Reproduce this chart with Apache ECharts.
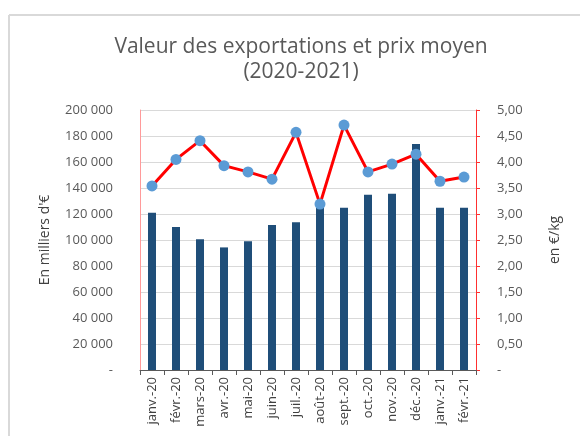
<!DOCTYPE html>
<html>
<head>
<meta charset="utf-8">
<script src="https://cdn.jsdelivr.net/npm/echarts@6/dist/echarts.min.js"></script>
<style>
  html, body { margin: 0; padding: 0; background: #fff; }
  #mychart { width: 580px; height: 436px; }
</style>
</head>
<body>
<div id="mychart"></div>
<script>
var domchart = document.getElementById("mychart");

// mois
var mois = ['janv.-20', 'févr.-20', 'mars-20', 'avr.-20', 'mai-20', 'juin-20', 'juil.-20',
            'août-20', 'sept.-20', 'oct.-20', 'nov.-20', 'déc.-20', 'janv.-21', 'févr.-21'];
// valeur des exportations (milliers d'€)
var valeurs = [121000, 110000, 100500, 94300, 99000, 111500, 113600,
               125500, 124800, 134800, 135500, 173800, 124800, 124800];
// prix moyen (€/kg)
var prix = [3.54, 4.05, 4.41, 3.93, 3.81, 3.67, 4.57,
            3.19, 4.71, 3.81, 3.96, 4.15, 3.63, 3.71];

var police = 'Open Sans';

function fmtMilliers(v) {
    if (v === 0) return '-';
    return String(v).replace(/\B(?=(\d{3})+(?!\d))/g, ' ');
}
function fmtPrix(v) {
    if (v === 0) return '-';
    return v.toFixed(2).replace('.', ',');
}

var option = {
    animation: false,
    textStyle: { fontFamily: police },
    title: {
        text: 'Valeur des exportations et prix moyen\n(2020-2021)',
        left: 296,
        top: 30,
        textAlign: 'center',
        textStyle: {
            fontFamily: police,
            fontSize: 21,
            fontWeight: 'normal',
            color: '#595959',
            lineHeight: 25
        }
    },
    graphic: [
        // cadre
        { type: 'line', shape: { x1: 9, y1: 15, x2: 580, y2: 15 }, style: { stroke: '#d9d9d9', lineWidth: 2 } },
        { type: 'line', shape: { x1: 9, y1: 15, x2: 9, y2: 436 }, style: { stroke: '#d9d9d9', lineWidth: 2 } }
    ],
    grid: { left: 140, right: 104, top: 110, bottom: 66 },
    xAxis: {
        type: 'category',
        data: mois,
        axisLine: { lineStyle: { color: '#595959' } },
        axisTick: { show: true, length: 5, lineStyle: { color: '#595959' } },
        axisLabel: { rotate: 90, color: '#404040', fontSize: 13, margin: 7 }
    },
    yAxis: [{
        type: 'value',
        min: 0, max: 200000, interval: 20000,
        name: "En milliers d'€",
        nameLocation: 'middle',
        nameRotate: 90,
        nameGap: 88,
        nameTextStyle: { color: '#404040', fontSize: 14 },
        axisLine: { show: true, lineStyle: { color: '#ff9a9a' } },
        axisTick: { show: false },
        splitLine: { lineStyle: { color: '#d9d9d9' } },
        axisLabel: { color: '#595959', fontSize: 13, margin: 27, formatter: fmtMilliers }
    }, {
        type: 'value',
        min: 0, max: 5, interval: 0.5,
        name: 'en €/kg',
        nameLocation: 'middle',
        nameRotate: 90,
        nameGap: 72,
        nameTextStyle: { color: '#404040', fontSize: 14 },
        axisLine: { show: true, lineStyle: { color: '#ff3030' } },
        axisTick: { show: true, length: 4, lineStyle: { color: '#ff3030' } },
        splitLine: { show: false },
        axisLabel: { color: '#595959', fontSize: 13, margin: 21, formatter: fmtPrix }
    }],
    series: [{
        type: 'bar',
        data: valeurs,
        barWidth: 8,
        itemStyle: { color: '#1f4e79' }
    }, {
        type: 'line',
        yAxisIndex: 1,
        data: prix,
        symbol: 'circle',
        symbolSize: 11,
        lineStyle: { color: '#ff0000', width: 3 },
        itemStyle: { color: '#5b9bd5' },
        z: 5
    }]
};

var chart = echarts.init(domchart);
chart.setOption(option, true);
</script>
</body>
</html>
